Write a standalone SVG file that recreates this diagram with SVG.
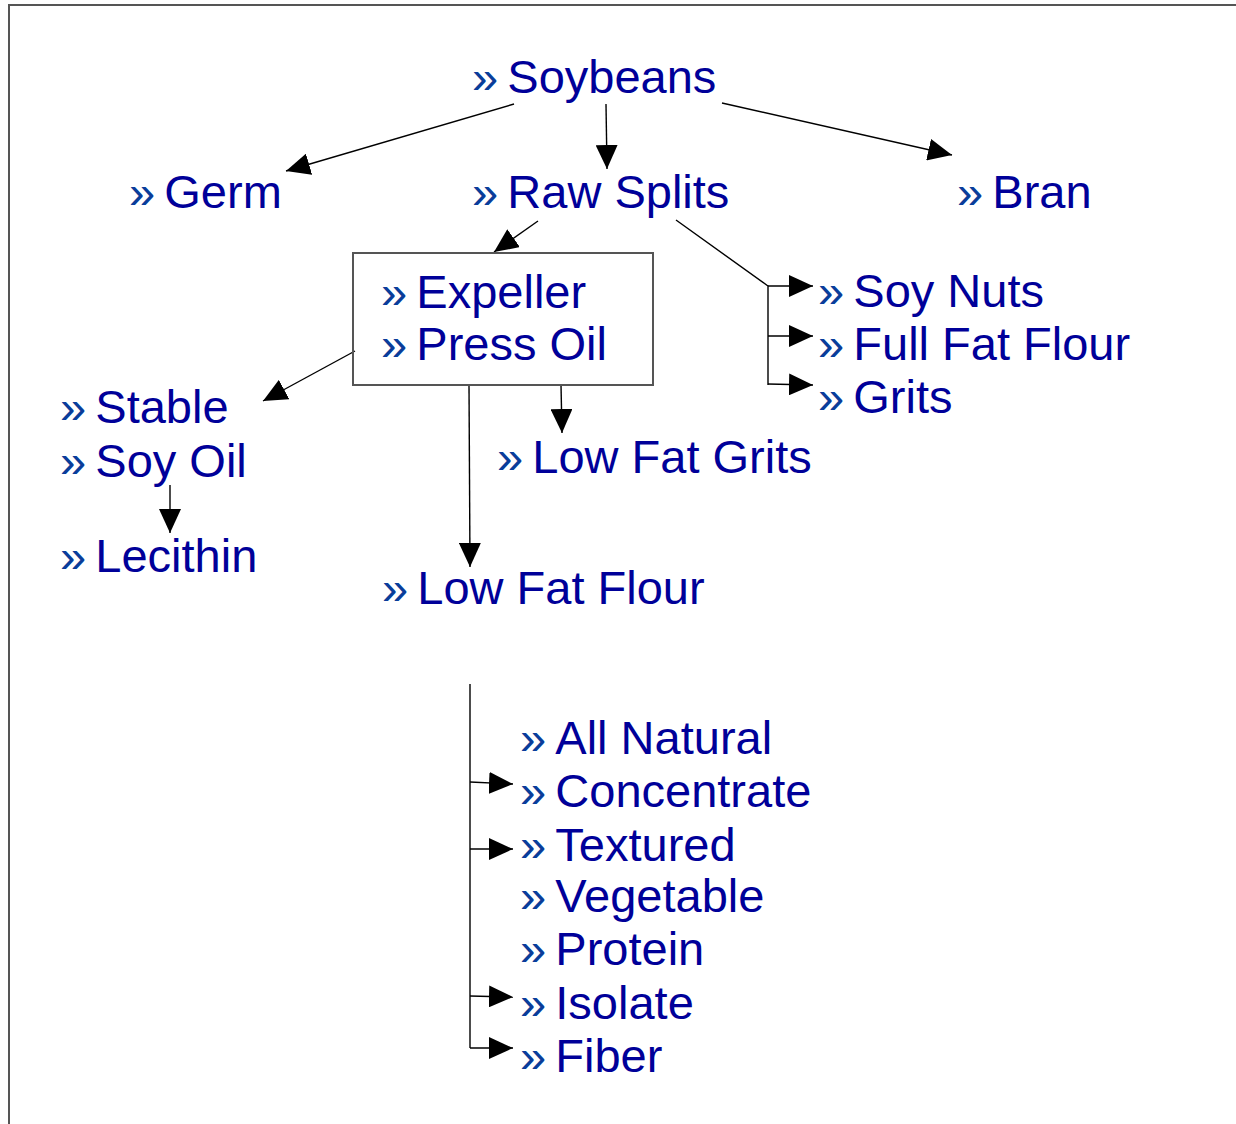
<svg xmlns="http://www.w3.org/2000/svg" width="1236" height="1124" viewBox="0 0 1236 1124">
<defs>
<marker id="ah" markerUnits="userSpaceOnUse" markerWidth="24" markerHeight="22" refX="24" refY="11" orient="auto">
<path d="M0,0 L24,11 L0,22 z" fill="#000"/>
</marker>
<style>
text{font-family:"Liberation Sans",Arial,sans-serif;font-size:47px;fill:#000099}
.q{fill:#0a3d9a}
.s{font-size:33px}
.c{stroke:#000;stroke-width:1.4;fill:none}
.a{marker-end:url(#ah)}
</style>
</defs>
<rect x="0" y="0" width="1236" height="1124" fill="#fff"/>
<rect x="9" y="5" width="1260" height="1160" fill="none" stroke="#555" stroke-width="2"/>
<g id="connectors">
<line class="c a" x1="514" y1="104" x2="286" y2="171"/>
<line class="c a" x1="606" y1="104" x2="607" y2="169"/>
<line class="c a" x1="722" y1="103" x2="952" y2="155"/>
<line class="c a" x1="538" y1="221" x2="494" y2="252"/>
<polyline class="c" points="676,220 768,286 768,385"/>
<line class="c a" x1="768" y1="286" x2="813" y2="286"/>
<line class="c a" x1="768" y1="336" x2="813" y2="336"/>
<line class="c a" x1="768" y1="384" x2="813" y2="385"/>
<line class="c a" x1="355" y1="351" x2="263" y2="401"/>
<line class="c a" x1="170" y1="485" x2="170" y2="533"/>
<line class="c a" x1="561" y1="385" x2="562" y2="433"/>
<line class="c a" x1="469" y1="385" x2="470" y2="567"/>
<line class="c" x1="470" y1="684" x2="470" y2="1048"/>
<line class="c a" x1="470" y1="782" x2="513" y2="784"/>
<line class="c a" x1="470" y1="849" x2="513" y2="849"/>
<line class="c a" x1="470" y1="996" x2="513" y2="997"/>
<line class="c a" x1="470" y1="1048" x2="513" y2="1048"/>
</g>
<g id="soybeans"><text x="472" y="93"><tspan class="q">»</tspan><tspan class="s"> </tspan>Soybeans</text></g>
<g id="germ"><text x="129" y="208"><tspan class="q">»</tspan><tspan class="s"> </tspan>Germ</text></g>
<g id="raw-splits"><text x="472" y="208"><tspan class="q">»</tspan><tspan class="s"> </tspan>Raw Splits</text></g>
<g id="bran"><text x="957" y="208"><tspan class="q">»</tspan><tspan class="s"> </tspan>Bran</text></g>
<g id="expeller">
<rect x="353" y="253" width="300" height="132" fill="none" stroke="#555" stroke-width="2"/>
<text x="381" y="308"><tspan class="q">»</tspan><tspan class="s"> </tspan>Expeller</text>
<text x="381" y="360"><tspan class="q">»</tspan><tspan class="s"> </tspan>Press Oil</text>
</g>
<g id="soy-nuts"><text x="818" y="307"><tspan class="q">»</tspan><tspan class="s"> </tspan>Soy Nuts</text></g>
<g id="full-fat-flour"><text x="818" y="360"><tspan class="q">»</tspan><tspan class="s"> </tspan>Full Fat Flour</text></g>
<g id="grits"><text x="818" y="413"><tspan class="q">»</tspan><tspan class="s"> </tspan>Grits</text></g>
<g id="stable-soy-oil">
<text x="60" y="423"><tspan class="q">»</tspan><tspan class="s"> </tspan>Stable</text>
<text x="60" y="477"><tspan class="q">»</tspan><tspan class="s"> </tspan>Soy Oil</text>
</g>
<g id="lecithin"><text x="60" y="572"><tspan class="q">»</tspan><tspan class="s"> </tspan>Lecithin</text></g>
<g id="low-fat-grits"><text x="497" y="473"><tspan class="q">»</tspan><tspan class="s"> </tspan>Low Fat Grits</text></g>
<g id="low-fat-flour"><text x="382" y="604"><tspan class="q">»</tspan><tspan class="s"> </tspan>Low Fat Flour</text></g>
<g id="all-natural"><text x="520" y="754"><tspan class="q">»</tspan><tspan class="s"> </tspan>All Natural</text></g>
<g id="concentrate"><text x="520" y="807"><tspan class="q">»</tspan><tspan class="s"> </tspan>Concentrate</text></g>
<g id="textured"><text x="520" y="861"><tspan class="q">»</tspan><tspan class="s"> </tspan>Textured</text></g>
<g id="vegetable"><text x="520" y="912"><tspan class="q">»</tspan><tspan class="s"> </tspan>Vegetable</text></g>
<g id="protein"><text x="520" y="965"><tspan class="q">»</tspan><tspan class="s"> </tspan>Protein</text></g>
<g id="isolate"><text x="520" y="1019"><tspan class="q">»</tspan><tspan class="s"> </tspan>Isolate</text></g>
<g id="fiber"><text x="520" y="1072"><tspan class="q">»</tspan><tspan class="s"> </tspan>Fiber</text></g>
</svg>
